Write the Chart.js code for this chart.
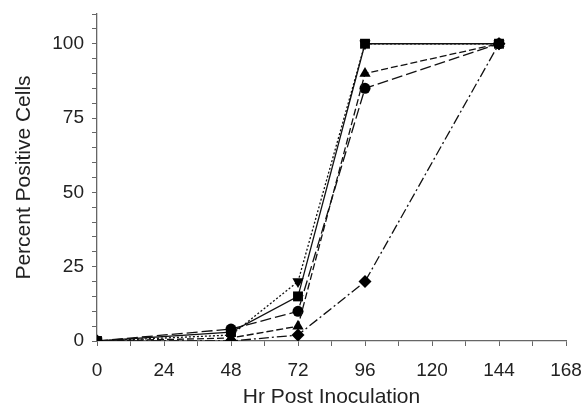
<!DOCTYPE html>
<html>
<head>
<meta charset="utf-8">
<script src="https://cdn.jsdelivr.net/npm/chart.js@4"></script>
<style>
  html, body { margin: 0; padding: 0; background: #fff; }
  #wrap { width: 584px; height: 414px; }
</style>
</head>
<body>
<div id="wrap"><canvas id="infectionChart"></canvas></div>
<script>
// Sampling times (hours) and percent positive cells per group
const hours = [0, 48, 72, 96, 144];
const squareSeries = [0, 3, 15, 100, 100];
const circleSeries = [0, 4, 10, 85, 100];
const triangleSeries = [0, 1, 5, 90, 100];
const downTriangleSeries = [0, 2, 20, 100, 100];
const diamondSeries = [0, 0, 2, 20, 100];

const xTickStep = 12;
const xLabelStep = 24;
const yTickStep = 5;
const yLabelStep = 25;

function toPoints(values) {
    return values.map((v, i) => ({ x: hours[i], y: v }));
}

function makeSet(label, values, style, radius, dash, rotation) {
    return {
        label: label,
        data: toPoints(values),
        borderColor: "#111",
        backgroundColor: "#000",
        borderWidth: 1.3,
        borderDash: dash,
        pointStyle: style,
        pointRadius: radius,
        pointRotation: rotation || 0,
        pointBorderWidth: 0,
        tension: 0
    };
}

const fontFamily = "'Liberation Sans', Arial, sans-serif";
const tickFont = { family: fontFamily, size: 19 };
const titleFont = { family: fontFamily, size: 21 };

new Chart(document.getElementById("infectionChart"), {
    type: "line",
    data: {
        datasets: [
            makeSet("Diamond", diamondSeries, "rectRot", 6.5, [10, 3, 2, 3]),
            makeSet("Triangle", triangleSeries, "triangle", 6.5, [7, 3]),
            makeSet("Down triangle", downTriangleSeries, "triangle", 6.5, [2, 2], 180),
            makeSet("Circle", circleSeries, "circle", 5.5, [11, 4]),
            makeSet("Square", squareSeries, "rect", 7, [])
        ]
    },
    options: {
        responsive: true,
        maintainAspectRatio: false,
        animation: false,
        layout: { padding: 0 },
        plugins: { legend: { display: false }, tooltip: { enabled: false } },
        scales: {
            x: {
                type: "linear",
                min: 0,
                max: 168,
                afterFit: (scale) => {
                    scale.height = 73;
                    scale.paddingLeft = 0;
                    scale.paddingRight = 18;
                },
                border: { display: true, color: "#666", width: 1.3 },
                grid: { drawOnChartArea: false, drawTicks: true, tickLength: 5, color: "#666" },
                ticks: {
                    stepSize: xTickStep,
                    color: "#222",
                    font: tickFont,
                    padding: 13,
                    maxRotation: 0,
                    autoSkip: false,
                    callback: (v) => (v % xLabelStep === 0 ? v : "")
                },
                title: {
                    display: true,
                    text: "Hr Post Inoculation",
                    color: "#222",
                    font: titleFont,
                    padding: { top: 4 }
                }
            },
            y: {
                min: 0,
                max: 110,
                afterFit: (scale) => {
                    scale.width = 97;
                    scale.paddingTop = 14;
                    scale.paddingBottom = 0;
                },
                border: { display: true, color: "#666", width: 1.3 },
                grid: { drawOnChartArea: false, drawTicks: true, tickLength: 5, color: "#666" },
                ticks: {
                    stepSize: yTickStep,
                    color: "#222",
                    font: tickFont,
                    padding: 8,
                    autoSkip: false,
                    callback: (v) => (v % yLabelStep === 0 && v <= 100 ? v : "")
                },
                title: {
                    display: true,
                    text: "Percent Positive Cells",
                    color: "#222",
                    font: titleFont,
                    padding: { top: 12, bottom: 2 }
                }
            }
        }
    }
});
</script>
</body>
</html>
